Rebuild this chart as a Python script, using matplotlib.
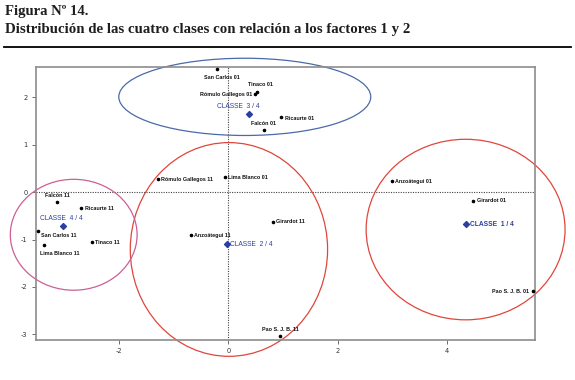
import matplotlib
matplotlib.use("Agg")
import matplotlib.pyplot as plt
from matplotlib.patches import Ellipse

plt.rcParams["axes.unicode_minus"] = False

# ---- data ----
names = ["San Carlos 01", "Tinaco 01", "Rómulo Gallegos 01", "Ricaurte 01", "Falcón 01",
         "Rómulo Gallegos 11", "Lima Blanco 01", "Anzoátegui 01", "Girardot 01", "Pao S. J. B. 01",
         "Falcón 11", "Ricaurte 11", "San Carlos 11", "Lima Blanco 11", "Tinaco 11",
         "Anzoátegui 11", "Girardot 11", "Pao S. J. B. 11"]
px = [-0.20, 0.52, 0.49, 0.96, 0.65,
      -1.29, -0.06, 2.99, 4.47, 5.58,
      -3.14, -2.69, -3.49, -3.38, -2.50,
      -0.68, 0.81, 0.95]
py = [2.60, 2.11, 2.07, 1.58, 1.31,
      0.27, 0.31, 0.23, -0.18, -2.09,
      -0.21, -0.34, -0.82, -1.12, -1.06,
      -0.91, -0.63, -3.04]

classes = ["CLASSE  1 / 4", "CLASSE  2 / 4", "CLASSE  3 / 4", "CLASSE  4 / 4"]
cx = [4.34, -0.03, 0.38, -3.03]
cy = [-0.68, -1.10, 1.64, -0.72]

# ellipse (center x, center y, width, height) per class
ell_x = [4.34, 0.01, 0.30, -2.83]
ell_y = [-0.79, -1.21, 2.01, -0.90]
ell_w = [3.64, 3.61, 4.61, 2.32]
ell_h = [3.81, 4.51, 1.63, 2.34]

xticks = [-2, 0, 2, 4]
yticks = [-3, -2, -1, 0, 1, 2]

# ---- styles (label offsets in pixels, alignment) ----
pt_off = {
    "San Carlos 01": (4, -9, "center"), "Tinaco 01": (-9, 8, "left"),
    "Rómulo Gallegos 01": (-3, 0, "right"), "Ricaurte 01": (4, -1, "left"),
    "Falcón 01": (0, 7, "center"), "Rómulo Gallegos 11": (3, 0, "left"),
    "Lima Blanco 01": (3, 0, "left"), "Anzoátegui 01": (3, 0, "left"),
    "Girardot 01": (4, 0, "left"), "Pao S. J. B. 01": (-4, 0, "right"),
    "Falcón 11": (1, 7, "center"), "Ricaurte 11": (4, 0, "left"),
    "San Carlos 11": (3, -5, "left"), "Lima Blanco 11": (-4, -8, "left"),
    "Tinaco 11": (3, 0, "left"), "Anzoátegui 11": (3, 0, "left"),
    "Girardot 11": (3, 0, "left"), "Pao S. J. B. 11": (0, 7, "center"),
}
cl_off = [(4, 0, "left"), (3, 0, "left"), (-11, 8, "center"), (-1, 8, "center")]
ell_col = ["#e0463c", "#e0463c", "#4a6aaa", "#cc5f95"]

fig = plt.figure(figsize=(5.75, 3.8), dpi=100)
fig.patch.set_facecolor("white")

# title
fig.text(5 / 575, 1 - 12 / 380, "Figura Nº 14.", family="Liberation Serif", weight="bold",
         fontsize=10.5, color="#1e1e1e", ha="left", va="center")
fig.text(5 / 575, 1 - 30 / 380, "Distribución de las cuatro clases con relación a los factores 1 y 2",
         family="Liberation Serif", weight="bold", fontsize=10.7, color="#1e1e1e", ha="left", va="center")
fig.add_artist(plt.Line2D([4 / 575, 571 / 575], [1 - 47 / 380, 1 - 47 / 380],
                          color="black", lw=1.3, transform=fig.transFigure))

ax = fig.add_axes([36 / 575, 1 - 339.5 / 380, (535 - 36) / 575, (339.5 - 67) / 380])
ax.set_xlim(-3.52, 5.61)
ax.set_ylim(-3.11, 2.64)

for s in ax.spines.values():
    s.set_color("#8c8c8c")
    s.set_linewidth(1.2)

ax.set_xticks(xticks)
ax.set_yticks(yticks)
ax.tick_params(axis="both", labelsize=4.8, colors="#555555", length=3, width=0.6,
               direction="out", pad=3)
for lab in ax.get_xticklabels() + ax.get_yticklabels():
    lab.set_color("#333333")

ax.axhline(0, color="#444444", lw=0.8, ls=(0, (1, 1.2)), zorder=1)
ax.axvline(0, color="#444444", lw=0.8, ls=(0, (1, 1.2)), zorder=1)

for i in range(len(ell_x)):
    e = Ellipse((ell_x[i], ell_y[i]), ell_w[i], ell_h[i], fill=False,
                edgecolor=ell_col[i], lw=0.9, clip_on=False, zorder=2)
    ax.add_patch(e)

ax.scatter(px, py, s=2.5, color="black", zorder=3, clip_on=False)
for n, x, y in zip(names, px, py):
    dx, dy, ha = pt_off[n]
    ax.annotate(n, (x, y), xytext=(dx, dy), textcoords="offset pixels", ha=ha, va="center",
                fontsize=3.9, weight="bold", family="Liberation Sans", color="#111111",
                annotation_clip=False, zorder=4)

ax.scatter(cx, cy, s=9, marker="D", color="#2b3fa0", zorder=3)
for i, n in enumerate(classes):
    dx, dy, ha = cl_off[i]
    ax.annotate(n, (cx[i], cy[i]), xytext=(dx, dy), textcoords="offset pixels", ha=ha,
                va="center", fontsize=4.8, family="Liberation Sans", color="#2b3fa0",
                weight="bold" if i == 0 else "normal", annotation_clip=False, zorder=4)

fig.savefig("out.png", dpi=100, facecolor="white")
